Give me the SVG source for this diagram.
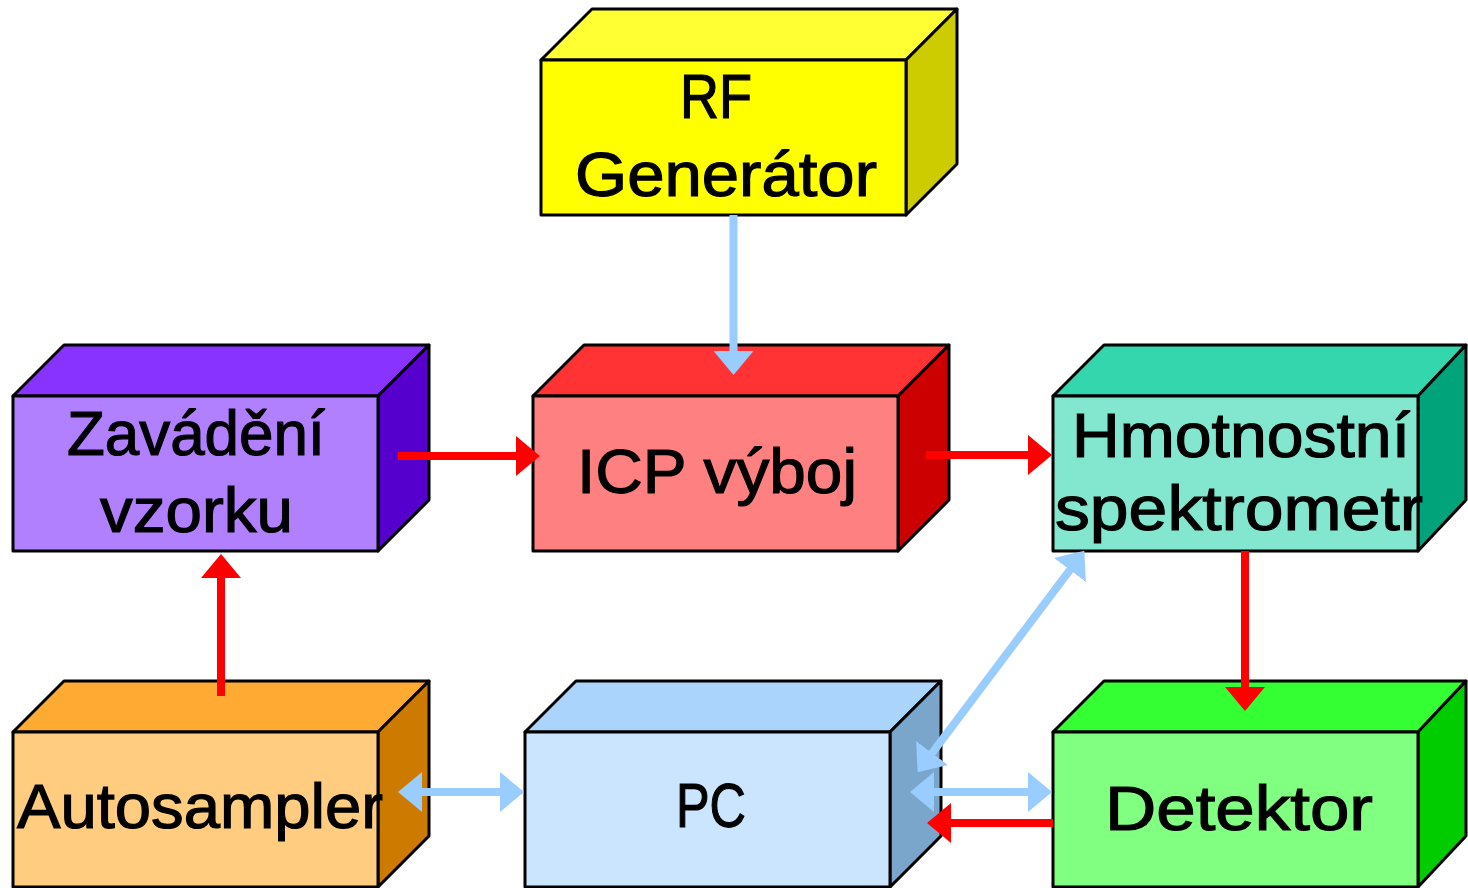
<svg xmlns="http://www.w3.org/2000/svg" width="1468" height="888" viewBox="0 0 1468 888">
<style>
.edge{stroke:#000;stroke-width:3;stroke-linejoin:round}
.lbl{font-family:"Liberation Sans","DejaVu Sans",sans-serif;font-size:63px;fill:#000;stroke:#000;stroke-width:1.2}
.red{stroke:#FF0000;stroke-width:8;fill:none}
.blue{stroke:#99CCFF;stroke-width:8;fill:none}
</style>
<defs>
<marker id="hr" viewBox="0 -20 24 40" markerWidth="24" markerHeight="40" refX="1" refY="0" markerUnits="userSpaceOnUse" orient="auto-start-reverse"><path d="M0,-20 L24,0 L0,20 Z" fill="#FF0000"/></marker>
<marker id="hb" viewBox="0 -20 24 40" markerWidth="24" markerHeight="40" refX="1" refY="0" markerUnits="userSpaceOnUse" orient="auto-start-reverse"><path d="M0,-20 L24,0 L0,20 Z" fill="#99CCFF"/></marker>
</defs>
<rect width="1468" height="888" fill="#FFFFFF"/>

<g id="rf">
<polygon class="edge" fill="#FFFF33" points="541,60 592,9 957,9 906,60"/>
<polygon class="edge" fill="#CCCC00" points="906,60 957,9 957,164 906,215"/>
<rect class="edge" fill="#FFFF00" x="541" y="60" width="365" height="155"/>
<text class="lbl" x="680" y="118" textLength="72" lengthAdjust="spacingAndGlyphs">RF</text>
<text class="lbl" x="575" y="196" textLength="302" lengthAdjust="spacingAndGlyphs">Generátor</text>
</g>

<g id="zavadeni">
<polygon class="edge" fill="#8833FF" points="13,396 64,345 429,345 378,396"/>
<polygon class="edge" fill="#5500CC" points="378,396 429,345 429,500 378,551"/>
<rect class="edge" fill="#B080FF" x="13" y="396" width="365" height="155"/>
<text class="lbl" x="67" y="455" textLength="258" lengthAdjust="spacingAndGlyphs">Zavádění</text>
<text class="lbl" x="100" y="532" textLength="193" lengthAdjust="spacingAndGlyphs">vzorku</text>
</g>

<g id="icp">
<polygon class="edge" fill="#FF3333" points="533,396 584,345 949,345 898,396"/>
<polygon class="edge" fill="#CC0000" points="898,396 949,345 949,500 898,551"/>
<rect class="edge" fill="#FF8080" x="533" y="396" width="365" height="155"/>
<text class="lbl" x="577" y="493" textLength="280" lengthAdjust="spacingAndGlyphs">ICP výboj</text>
</g>

<g id="ms">
<polygon class="edge" fill="#33D6AD" points="1053,396 1104,345 1466,345 1418,396"/>
<polygon class="edge" fill="#00A37A" points="1418,396 1466,345 1466,500 1418,551"/>
<rect class="edge" fill="#83E6CF" x="1053" y="396" width="365" height="155"/>
<text class="lbl" x="1072" y="457" textLength="338" lengthAdjust="spacingAndGlyphs">Hmotnostní</text>
<text class="lbl" x="1055" y="530" textLength="368" lengthAdjust="spacingAndGlyphs">spektrometr</text>
</g>

<g id="autosampler">
<polygon class="edge" fill="#FFAA33" points="13,732 64,681 429,681 378,732"/>
<polygon class="edge" fill="#CC7A00" points="378,732 429,681 429,836 378,887"/>
<rect class="edge" fill="#FFCC80" x="13" y="732" width="365" height="155"/>
<text class="lbl" x="17" y="828" textLength="366" lengthAdjust="spacingAndGlyphs">Autosampler</text>
</g>

<g id="pc">
<polygon class="edge" fill="#AAD4FB" points="525,732 576,681 941,681 890,732"/>
<polygon class="edge" fill="#7BA6CC" points="890,732 941,681 941,836 890,887"/>
<rect class="edge" fill="#CCE5FF" x="525" y="732" width="365" height="155"/>
<text class="lbl" x="676" y="827" textLength="70" lengthAdjust="spacingAndGlyphs">PC</text>
</g>

<g id="detektor">
<polygon class="edge" fill="#33FF33" points="1053,732 1104,681 1466,681 1418,732"/>
<polygon class="edge" fill="#00CC00" points="1418,732 1466,681 1466,836 1418,887"/>
<rect class="edge" fill="#80FF80" x="1053" y="732" width="365" height="155"/>
<text class="lbl" x="1105" y="830" textLength="268" lengthAdjust="spacingAndGlyphs">Detektor</text>
</g>

<g id="connectors">
<path class="red" d="M398,456 L517,456" marker-end="url(#hr)"/>
<path class="red" d="M926,455 L1029,455" marker-end="url(#hr)"/>
<path class="red" d="M1245,551 L1245,688" marker-end="url(#hr)"/>
<path class="red" d="M221,696 L221,577" marker-end="url(#hr)"/>
<path class="red" d="M1053,823 L950,823" marker-end="url(#hr)"/>
<path class="blue" d="M733.5,215 L733.5,352" marker-end="url(#hb)"/>
<path class="blue" d="M421,792 L501,792" marker-start="url(#hb)" marker-end="url(#hb)"/>
<path class="blue" d="M933,792 L1029,792" marker-start="url(#hb)" marker-end="url(#hb)"/>
<path class="blue" d="M931.5,753.8 L1070.5,569.2" marker-start="url(#hb)" marker-end="url(#hb)"/>
</g>
</svg>
